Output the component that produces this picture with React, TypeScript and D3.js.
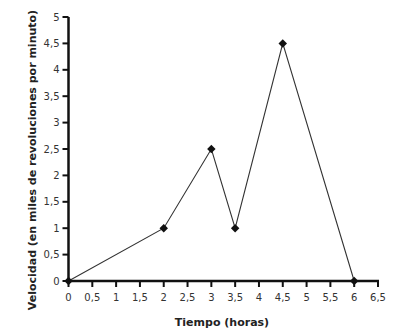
import React from "react";
import * as d3 from "d3";

const hours = [0, 2, 3, 3.5, 4.5, 6];
const speed = [0, 1, 2.5, 1, 4.5, 0];
const xTicks = [0, 0.5, 1, 1.5, 2, 2.5, 3, 3.5, 4, 4.5, 5, 5.5, 6, 6.5];
const yTicks = [0, 0.5, 1, 1.5, 2, 2.5, 3, 3.5, 4, 4.5, 5];
const xTitle = "Tiempo (horas)";
const yTitle = "Velocidad (en miles de revoluciones por minuto)";

const fmt = (v: number) => String(v).replace(".", ",");

export default function App() {
  const W = 400, H = 329;
  const x = d3.scaleLinear().domain([0, 6.5]).range([68.5, 378]);
  const y = d3.scaleLinear().domain([0, 5]).range([281, 17]);
  const line = d3.line<number>().x((_, i) => x(hours[i])).y((d) => y(d));
  const font = "Tahoma, 'DejaVu Sans', Verdana, sans-serif";
  return (
    <svg width={W} height={H} style={{ position: "absolute", left: 0, top: 0, background: "#fff" }}>
      <path d={line(speed) || ""} fill="none" stroke="#333" strokeWidth={1.1} />
      {speed.map((v, i) => (
        <rect key={i} x={x(hours[i]) - 3} y={y(v) - 3} width={6} height={6}
          transform={`rotate(45 ${x(hours[i])} ${y(v)})`} fill="#111" />
      ))}
      <line x1={x(0)} x2={x(0)} y1={y(5)} y2={y(0) + 1} stroke="#111" strokeWidth={2.5} />
      <line x1={x(0) - 1} x2={x(6.5) + 1} y1={y(0)} y2={y(0)} stroke="#111" strokeWidth={2.5} />
      {yTicks.map((t) => (
        <g key={"y" + t}>
          <line x1={x(0) - 6} x2={x(0)} y1={y(t)} y2={y(t)} stroke="#111" strokeWidth={2} />
          <text x={x(0) - 9} y={y(t)} dy="0.35em" textAnchor="end" fontFamily={font} fontSize={10} fill="#333">{fmt(t)}</text>
        </g>
      ))}
      {xTicks.map((t) => (
        <g key={"x" + t}>
          <line x1={x(t)} x2={x(t)} y1={y(0)} y2={y(0) + 6} stroke="#111" strokeWidth={2} />
          <text x={x(t)} y={y(0) + 20} textAnchor="middle" fontFamily={font} fontSize={10} fill="#333">{fmt(t)}</text>
        </g>
      ))}
      <text x={222} y={326} textAnchor="middle" fontFamily={font} fontSize={11} fontWeight="bold" fill="#222">{xTitle}</text>
      <text transform={`translate(36,160) rotate(-90)`} textAnchor="middle" fontFamily={font} fontSize={11} fontWeight="bold" fill="#222">{yTitle}</text>
    </svg>
  );
}
